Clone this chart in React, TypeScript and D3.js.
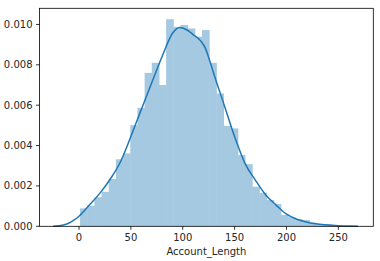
import * as d3 from 'd3'

// histogram: 35 equal bins over the data range
const binStart = 1
const binEnd = 243
const binDensity = [
  0.00089, 0.00102, 0.00144, 0.00171, 0.00234, 0.00332, 0.00361, 0.00501, 0.00587, 0.0076,
  0.0081, 0.007, 0.01026, 0.00988, 0.00997, 0.0098, 0.00939, 0.00972, 0.0081, 0.00658,
  0.00498, 0.00485, 0.00353, 0.00308, 0.00196, 0.00166, 0.0013, 0.0011, 0.00056, 0.00045,
  0.00036, 0.00031, 0.00018, 0.00011, 0.0001,
]

// kde curve
const kdeX = [-25, -15, -10, -5, 0, 10, 20, 30, 40, 50, 60, 70, 80, 90, 97, 105, 110, 117, 122, 126, 130, 140, 150, 160, 170, 180, 190, 200, 210, 220, 230, 240, 250, 260, 269]
const kdeY = [0, 0.00006, 0.00015, 0.0003, 0.0005, 0.00105, 0.00163, 0.00233, 0.0032, 0.00445, 0.00578, 0.0071, 0.0084, 0.00955, 0.00985, 0.0097, 0.0095, 0.0092, 0.0088, 0.0082, 0.00755, 0.006, 0.00444, 0.00312, 0.00229, 0.00155, 0.00105, 0.0006, 0.00035, 0.0002, 0.00011, 0.00006, 0.00003, 0.00001, 0]

const xTicks = [0, 50, 100, 150, 200, 250]
const yTicks = [0, 0.002, 0.004, 0.006, 0.008, 0.01]
const xLabel = 'Account_Length'

const W = 380
const H = 261
const left = 39.5
const right = 373.3
const top = 8.3
const bottom = 226.3
const font = 'DejaVu Sans, sans-serif'

export default function App() {
  const x = d3.scaleLinear().domain([-38.1, 283.7]).range([left, right])
  const y = d3.scaleLinear().domain([0, 0.0108]).range([bottom, top])

  const binW = (binEnd - binStart) / binDensity.length
  const bins = binDensity.map((d, i) => ({ x0: binStart + i * binW, x1: binStart + (i + 1) * binW, d }))

  const kde = kdeX.map((v, i) => [v, kdeY[i]] as [number, number])
  const path = d3
    .line<[number, number]>()
    .x((d) => x(d[0]))
    .y((d) => y(d[1]))
    .curve(d3.curveMonotoneX)(kde)

  const fmt = d3.format('.3f')

  return (
    <svg width={W} height={H} style={{ position: 'absolute', left: 0, top: 0, background: '#fff' }} fontFamily={font}>
      {bins.map((b, i) => (
        <rect
          key={i}
          x={x(b.x0)}
          y={y(b.d)}
          // small overlap so no seams show between neighbouring bars
          width={x(b.x1) - x(b.x0) + (i < bins.length - 1 ? 0.5 : 0)}
          height={y(0) - y(b.d)}
          fill="#a5c9e1"
        />
      ))}
      <path d={path || ''} fill="none" stroke="#1f77b4" strokeWidth={1.5} />

      {/* spines */}
      <rect x={left} y={top} width={right - left} height={bottom - top} fill="none" stroke="#000" strokeWidth={0.8} />

      {xTicks.map((t) => (
        <g key={t} transform={`translate(${x(t)},${bottom})`}>
          <line y2={3.5} stroke="#000" strokeWidth={0.8} />
          <text y={14.5} textAnchor="middle" fontSize={10} fill="#262626">
            {t}
          </text>
        </g>
      ))}
      {yTicks.map((t) => (
        <g key={t} transform={`translate(${left},${y(t)})`}>
          <line x2={-3.5} stroke="#000" strokeWidth={0.8} />
          <text x={-7} dy="0.35em" textAnchor="end" fontSize={10} fill="#262626">
            {fmt(t)}
          </text>
        </g>
      ))}
      <text x={(left + right) / 2} y={255} textAnchor="middle" fontSize={10} fill="#262626">
        {xLabel}
      </text>
    </svg>
  )
}
